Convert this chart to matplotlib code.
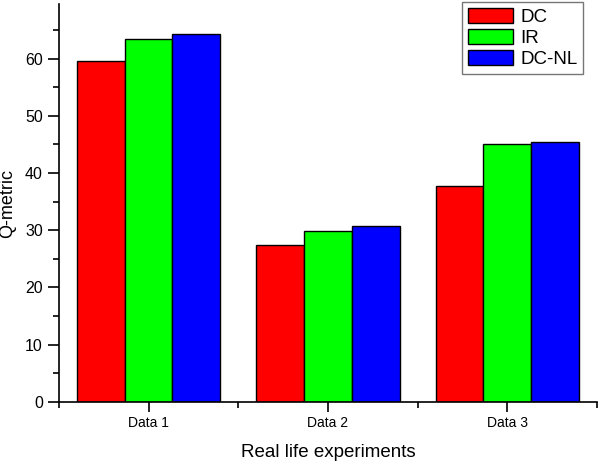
import matplotlib
matplotlib.use('Agg')
from matplotlib import pyplot as plt
from matplotlib.ticker import MultipleLocator
import numpy as np

plt.rcParams['font.family'] = ['Liberation Sans', 'DejaVu Sans']

categories = ['Data 1', 'Data 2', 'Data 3']
series_names = ['DC', 'IR', 'DC-NL']
dc = [59.5, 27.4, 37.7]
ir = [63.4, 29.8, 45.0]
dc_nl = [64.3, 30.7, 45.5]
colors = ['#ff0000', '#00ff00', '#0000ff']

fig = plt.figure(figsize=(6, 4.63), dpi=100)
ax = fig.add_axes([0.098, 0.132, 0.897, 0.859])

x = np.arange(1, len(categories) + 1)
w = 0.8 / 3
for i, (vals, name) in enumerate(zip([dc, ir, dc_nl], series_names)):
    ax.bar(x + (i - 1) * w, vals, w, color=colors[i], edgecolor='black',
           linewidth=1.0, label=name)

ax.set_xlim(0.5, 3.5)
ax.set_ylim(0, 69.5)
ax.set_xticks(x)
ax.set_xticklabels(categories, fontsize=10)
ax.xaxis.set_minor_locator(MultipleLocator(1, offset=0.5))
ax.yaxis.set_major_locator(MultipleLocator(10))
ax.yaxis.set_minor_locator(MultipleLocator(5))
ax.tick_params(axis='y', which='major', length=8, width=1.2, labelsize=11.5)
ax.tick_params(axis='y', which='minor', length=4, width=1.2)
ax.tick_params(axis='x', which='major', length=7, width=1.2)
ax.tick_params(axis='x', which='minor', length=4, width=1.2)

for s in ['top', 'right']:
    ax.spines[s].set_visible(False)
for s in ['left', 'bottom']:
    ax.spines[s].set_linewidth(1.2)

ax.set_xlabel('Real life experiments', fontsize=13.5, labelpad=10)
ax.set_ylabel('Q-metric', fontsize=13, labelpad=6)

leg = ax.legend(loc='upper right', bbox_to_anchor=(0.974, 1.005), fontsize=13.5,
                fancybox=False, edgecolor='#555555',
                handlelength=2.4, handleheight=0.9, borderaxespad=0,
                labelspacing=0.15, handletextpad=0.4, borderpad=0.3)
leg.get_frame().set_linewidth(1.0)

fig.savefig('out.png', dpi=100)
